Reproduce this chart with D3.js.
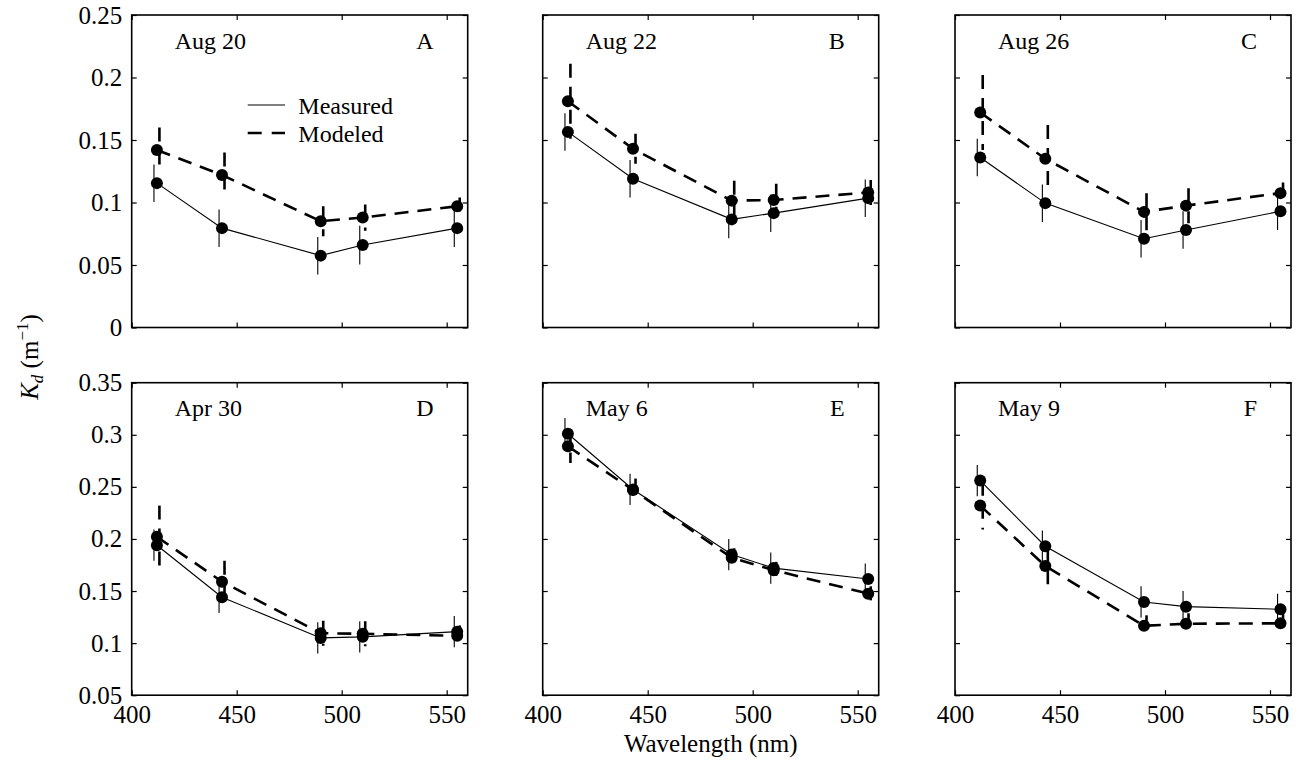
<!DOCTYPE html>
<html>
<head>
<meta charset="utf-8">
<script src="https://cdn.jsdelivr.net/npm/d3@7"></script>
<style>
  body { margin: 0; background: #fff; }
  svg text { font-family: "Liberation Serif", "Times New Roman", serif; fill: #000; }
</style>
</head>
<body>
<div id="chart"></div>
<script>
/**
 * DATA
 * */
const wavelengths = [412, 443, 490, 510, 555];
const panelDates = ["Aug 20", "Aug 22", "Aug 26", "Apr 30", "May 6", "May 9"];
const panelLetters = ["A", "B", "C", "D", "E", "F"];

// Kd per panel, one row per panel A..F
const measuredKd = [
  [0.1155, 0.0795, 0.0575, 0.0660, 0.0795],
  [0.1565, 0.1190, 0.0865, 0.0915, 0.1035],
  [0.1360, 0.0995, 0.0710, 0.0780, 0.0930],
  [0.1940, 0.1440, 0.1050, 0.1060, 0.1110],
  [0.3010, 0.2475, 0.1850, 0.1720, 0.1615],
  [0.2560, 0.1930, 0.1395, 0.1350, 0.1325],
];
const measuredErr = [
  [0.015, 0.015, 0.015, 0.0155, 0.015],
  [0.015, 0.015, 0.015, 0.015, 0.015],
  [0.015, 0.015, 0.015, 0.015, 0.015],
  [0.015, 0.015, 0.015, 0.015, 0.015],
  [0.015, 0.015, 0.015, 0.015, 0.015],
  [0.015, 0.015, 0.015, 0.015, 0.015],
];
const modeledKd = [
  [0.1420, 0.1220, 0.0850, 0.0880, 0.0970],
  [0.1810, 0.1430, 0.1015, 0.1020, 0.1080],
  [0.1720, 0.1350, 0.0925, 0.0975, 0.1075],
  [0.2020, 0.1590, 0.1095, 0.1090, 0.1070],
  [0.2890, 0.2470, 0.1820, 0.1700, 0.1475],
  [0.2320, 0.1740, 0.1167, 0.1186, 0.1190],
];
const modeledErr = [
  [0.018, 0.018, 0.012, 0.0105, 0.007],
  [0.030, 0.012, 0.016, 0.013, 0.010],
  [0.030, 0.027, 0.015, 0.014, 0.0085],
  [0.030, 0.020, 0.012, 0.012, 0.010],
  [0.016, 0.011, 0.009, 0.008, 0.007],
  [0.023, 0.018, 0.010, 0.010, 0.010],
];

const xDomain = [400, 560];
const xTicks = [400, 450, 500, 550];
const yDomains = [[0, 0.25], [0.05, 0.35]];
const yTicks = [
  [0, 0.05, 0.1, 0.15, 0.2, 0.25],
  [0.05, 0.1, 0.15, 0.2, 0.25, 0.3, 0.35],
];

/**
 * LAYOUT
 * */
const width = 1303, height = 763;
const panelLeft = [131.7, 542.7, 955];
const panelTop = [15, 382.7];
const pw = 336, ph = 312.5;
const tickLen = 5;
const dash = "14,9";

const svg = d3.select("#chart")
  .append("svg")
  .attr("width", width)
  .attr("height", height);

const fmt = d => String(+d.toFixed(2));

panelDates.forEach((date, i) => {
  const row = Math.floor(i / 3), col = i % 3;
  const g = svg.append("g")
    .attr("transform", `translate(${panelLeft[col]},${panelTop[row]})`);

  const x = d3.scaleLinear().domain(xDomain).range([0, pw]);
  const y = d3.scaleLinear().domain(yDomains[row]).range([ph, 0]);

  // axes: inward ticks on all four sides
  const bottom = g.append("g")
    .attr("transform", `translate(0,${ph})`)
    .call(d3.axisBottom(x).tickValues(xTicks).tickSize(-tickLen).tickPadding(10)
      .tickFormat(row === 1 ? d3.format("d") : ""));
  const top = g.append("g")
    .call(d3.axisTop(x).tickValues(xTicks).tickSize(-tickLen).tickFormat(""));
  const left = g.append("g")
    .call(d3.axisLeft(y).tickValues(yTicks[row]).tickSize(-tickLen).tickPadding(9.5)
      .tickFormat(col === 0 ? fmt : ""));
  const right = g.append("g")
    .attr("transform", `translate(${pw},0)`)
    .call(d3.axisRight(y).tickValues(yTicks[row]).tickSize(-tickLen).tickFormat(""));

  [bottom, top, left, right].forEach(a => {
    a.select(".domain").remove();
    a.selectAll("line").attr("stroke", "#000").attr("stroke-width", 1.2);
    a.selectAll("text").style("font-size", "25px").attr("font-family", null);
  });

  g.append("rect")
    .attr("width", pw).attr("height", ph)
    .attr("fill", "none").attr("stroke", "#000").attr("stroke-width", 1.6);

  const meas = wavelengths.map((w, j) => ({ w, v: measuredKd[i][j], e: measuredErr[i][j] }));
  const mod = wavelengths.map((w, j) => ({ w, v: modeledKd[i][j], e: modeledErr[i][j] }));

  const line = d3.line().x(d => x(d.w)).y(d => y(d.v));

  // error bars
  g.selectAll(".errMeas").data(meas).join("line")
    .attr("x1", d => x(d.w - 1.4)).attr("x2", d => x(d.w - 1.4))
    .attr("y1", d => y(d.v - d.e)).attr("y2", d => y(d.v + d.e))
    .attr("stroke", "#000").attr("stroke-width", 1.1);
  g.selectAll(".errMod").data(mod).join("line")
    .attr("x1", d => x(d.w + 1.2)).attr("x2", d => x(d.w + 1.2))
    .attr("y1", d => y(d.v + d.e)).attr("y2", d => y(d.v - d.e))
    .attr("stroke", "#000").attr("stroke-width", 2.6)
    .attr("stroke-dasharray", dash);

  // lines
  g.append("path").datum(meas).attr("d", line)
    .attr("fill", "none").attr("stroke", "#000").attr("stroke-width", 1.1);
  g.append("path").datum(mod).attr("d", line)
    .attr("fill", "none").attr("stroke", "#000").attr("stroke-width", 2.6)
    .attr("stroke-dasharray", dash);

  // dots
  g.selectAll(".dotMeas").data(meas).join("circle")
    .attr("cx", d => x(d.w)).attr("cy", d => y(d.v)).attr("r", 6);
  g.selectAll(".dotMod").data(mod).join("circle")
    .attr("cx", d => x(d.w)).attr("cy", d => y(d.v)).attr("r", 6);

  // panel labels
  g.append("text").attr("x", 43).attr("y", 33.5)
    .style("font-size", "24px").text(date);
  g.append("text").attr("x", pw - 34).attr("y", 33.5)
    .attr("text-anchor", "end").style("font-size", "24px").text(panelLetters[i]);

  // legend in panel A
  if (i === 0) {
    g.append("line").attr("x1", 116).attr("x2", 153.3).attr("y1", 90).attr("y2", 90)
      .attr("stroke", "#000").attr("stroke-width", 1.1);
    g.append("line").attr("x1", 116).attr("x2", 153.3).attr("y1", 118).attr("y2", 118)
      .attr("stroke", "#000").attr("stroke-width", 2.6).attr("stroke-dasharray", "14,10");
    g.append("text").attr("x", 166.6).attr("y", 98.5).style("font-size", "24px").text("Measured");
    g.append("text").attr("x", 166.6).attr("y", 127).style("font-size", "24px").text("Modeled");
  }
});

// axis titles
svg.append("text")
  .attr("x", panelLeft[1] + pw / 2).attr("y", 752)
  .attr("text-anchor", "middle").style("font-size", "25px")
  .text("Wavelength (nm)");

const yl = svg.append("text")
  .attr("transform", "translate(38,357) rotate(-90)")
  .attr("text-anchor", "middle").style("font-size", "25px");
yl.append("tspan").style("font-style", "italic").text("K");
yl.append("tspan").style("font-style", "italic").style("font-size", "17px").attr("dy", 5).text("d");
yl.append("tspan").attr("dy", -5).text(" (m");
yl.append("tspan").style("font-size", "17px").attr("dy", -10).text("\u22121");
yl.append("tspan").attr("dy", 10).text(")");
</script>
</body>
</html>
